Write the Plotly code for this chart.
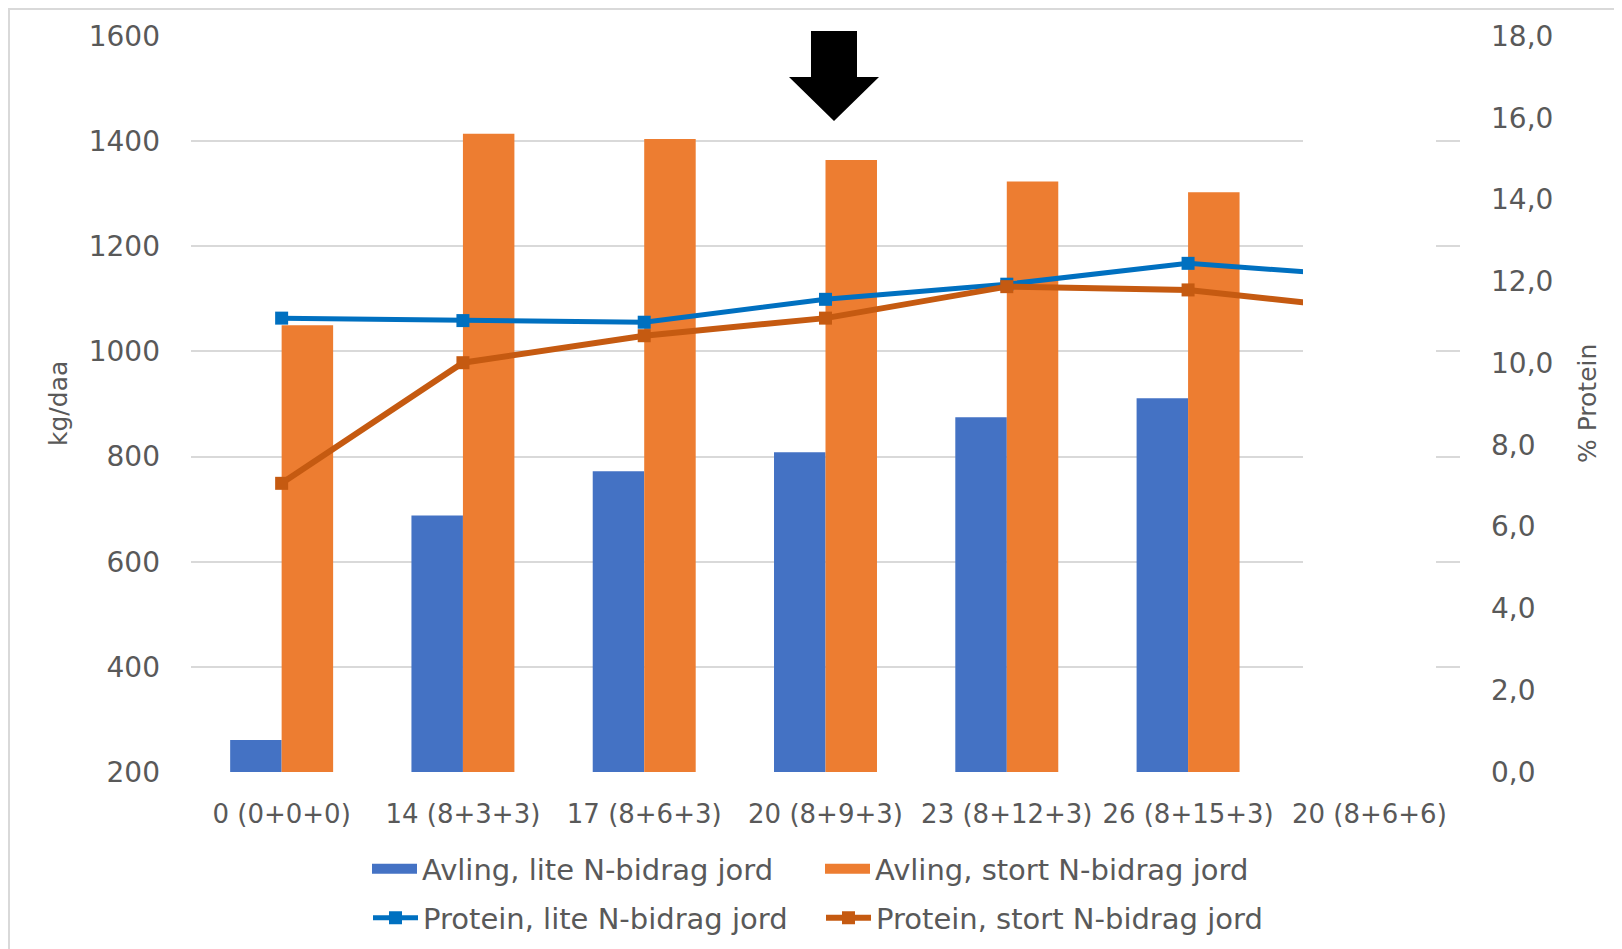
import plotly.graph_objects as go

# ---------------- data ----------------
categories = ["0 (0+0+0)", "14 (8+3+3)", "17 (8+6+3)", "20 (8+9+3)",
              "23 (8+12+3)", "26 (8+15+3)", "20 (8+6+6)"]
avling_lite = [261, 688, 772, 808, 875, 911, None]
avling_stort = [1050, 1414, 1404, 1364, 1323, 1303, None]
protein_lite = [11.1, 11.04, 11.0, 11.56, 11.93, 12.44, 12.12]
protein_stort = [7.06, 10.01, 10.67, 11.1, 11.87, 11.79, 11.31]

left_tickvals = [200, 400, 600, 800, 1000, 1200, 1400, 1600]
left_ticktext = ["200", "400", "600", "800", "1000", "1200", "1400", "1600"]
right_tickvals = [0, 2, 4, 6, 8, 10, 12, 14, 16, 18]
right_ticktext = ["0,0", "2,0", "4,0", "6,0", "8,0", "10,0", "12,0", "14,0", "16,0", "18,0"]

names = ["Avling, lite N-bidrag jord", "Avling, stort N-bidrag jord",
         "Protein, lite N-bidrag jord", "Protein, stort N-bidrag jord"]

# ---------------- layout geometry (page pixels -> figure) ----------------
OFF = 8                      # default body margin of the html page
W, H = 1622 - OFF, 955
ML, MR, MT, MB = 183, 162, 28, 191
PW, PH = W - ML - MR, H - MT - MB


def px(x):
    return (x - OFF - ML) / PW


def py(y):
    return (H - MB - (y - OFF)) / PH


FONT = "DejaVu Sans"
TXT = "#595959"
GRID = "#d9d9d9"
C_BAR1, C_BAR2 = "#4472C4", "#ED7D31"
C_LN1, C_LN2 = "#0070C0", "#C55A11"

fig = go.Figure()
fig.add_trace(go.Bar(x=categories, y=avling_lite, name=names[0], showlegend=False,
                     marker=dict(color=C_BAR1, line=dict(width=0))))
fig.add_trace(go.Bar(x=categories, y=avling_stort, name=names[1], showlegend=False,
                     marker=dict(color=C_BAR2, line=dict(width=0))))
fig.add_trace(go.Scatter(x=categories, y=protein_lite, name=names[2], yaxis="y2",
                         mode="lines+markers", line=dict(color=C_LN1, width=5),
                         marker=dict(symbol="square", size=13, color=C_LN1),
                         legend="legend2"))
fig.add_trace(go.Scatter(x=categories, y=protein_stort, name=names[3], yaxis="y2",
                         mode="lines+markers", line=dict(color=C_LN2, width=6),
                         marker=dict(symbol="square", size=13, color=C_LN2),
                         legend="legend2"))
# legend entries for the bars (wide rectangular swatches like the original)
for nm, col in [(names[0], C_BAR1), (names[1], C_BAR2)]:
    fig.add_trace(go.Scatter(x=[None], y=[None], name=nm, mode="lines",
                             line=dict(color=col, width=17), legend="legend",
                             hoverinfo="skip"))

# decorative shapes: cover box, arrow, frame
arrow_pts = [(811, 31), (857, 31), (857, 77), (879, 77), (834, 121), (789, 77), (811, 77)]
arrow_path = "M " + " L ".join(f"{px(a):.5f},{py(b):.5f}" for a, b in arrow_pts) + " Z"

shapes = [
    dict(type="rect", xref="paper", yref="paper", x0=px(1303), x1=px(1436),
         y0=py(790), y1=py(55), fillcolor="white", line=dict(width=0), layer="above"),
    dict(type="path", xref="paper", yref="paper", path=arrow_path,
         fillcolor="black", line=dict(width=0), layer="above"),
    dict(type="line", xref="paper", yref="paper", x0=px(8), x1=px(1622),
         y0=py(9), y1=py(9), line=dict(color="#d9d9d9", width=2), layer="above"),
    dict(type="line", xref="paper", yref="paper", x0=px(9), x1=px(9),
         y0=py(9), y1=py(960), line=dict(color="#d9d9d9", width=2), layer="above"),
]

annotations = [
    dict(text="kg/daa", xref="paper", yref="paper", x=px(58), y=py(404),
         textangle=-90, showarrow=False, font=dict(size=25, color=TXT, family=FONT),
         xanchor="center", yanchor="middle"),
    dict(text="% Protein", xref="paper", yref="paper", x=px(1587), y=py(404),
         textangle=-90, showarrow=False, font=dict(size=25, color=TXT, family=FONT),
         xanchor="center", yanchor="middle"),
]

legend_common = dict(orientation="h", xanchor="left", yanchor="middle",
                     entrywidth=393, entrywidthmode="pixels", itemwidth=45,
                     font=dict(size=29, color=TXT, family=FONT),
                     bgcolor="rgba(0,0,0,0)", traceorder="normal")

fig.update_layout(
    width=W, height=H,
    margin=dict(l=ML, r=MR, t=MT, b=MB),
    paper_bgcolor="white", plot_bgcolor="white",
    font=dict(family=FONT, color=TXT, size=28),
    barmode="group", bargap=0.432, bargroupgap=0,
    xaxis=dict(type="category", showgrid=False, showline=False, ticks="",
               tickfont=dict(size=26, color=TXT), ticklabelstandoff=24,
               range=[-0.5, 6.5]),
    yaxis=dict(range=[200, 1600], tickvals=left_tickvals, ticktext=left_ticktext,
               showgrid=True, gridcolor=GRID, gridwidth=2, zeroline=False,
               showline=False, ticks="", tickfont=dict(size=28, color=TXT),
               ticklabelstandoff=30),
    yaxis2=dict(range=[0, 18], tickvals=right_tickvals, ticktext=right_ticktext,
                overlaying="y", side="right", showgrid=False, zeroline=False,
                showline=False, ticks="", tickfont=dict(size=28, color=TXT),
                ticklabelstandoff=30),
    legend=dict(x=px(367), y=py(869), **legend_common),
    legend2=dict(x=px(368), y=py(918), **legend_common),
    shapes=shapes,
    annotations=annotations,
    showlegend=True,
)

fig.write_html("out.html")
